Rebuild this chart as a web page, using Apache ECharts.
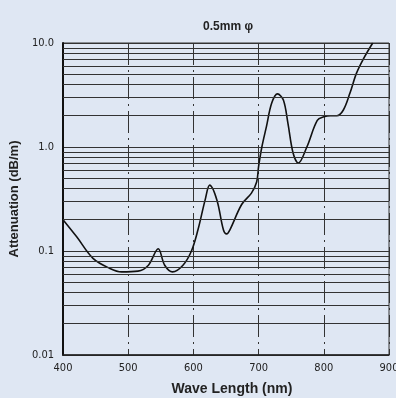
<!DOCTYPE html>
<html>
<head>
<meta charset="utf-8">
<script src="https://cdn.jsdelivr.net/npm/echarts@6/dist/echarts.min.js"></script>
<style>
  html, body { margin: 0; padding: 0; background: #dfe7f3; }
  #chart { width: 396px; height: 398px; }
</style>
</head>
<body>
<div id="chart"></div>
<script>
  // wavelength (nm)
  var waveLength = [400, 421, 446, 472, 490, 515, 531, 546, 556, 568, 584, 597, 607, 618, 625,
    636, 646, 651, 656, 674, 689, 697, 700, 705, 712, 720, 729, 738, 745, 753, 761, 774,
    790, 800, 810, 820, 830, 840, 850, 860, 875]
  // attenuation (dB/m)
  var attenuation = [0.2, 0.137, 0.085, 0.068, 0.063, 0.064, 0.073, 0.105, 0.073, 0.063, 0.073,
    0.1, 0.16, 0.31, 0.43, 0.31, 0.16, 0.146, 0.16, 0.28, 0.36, 0.46, 0.65, 1.0, 1.57, 2.63,
    3.24, 2.83, 1.69, 0.87, 0.7, 1.0, 1.8, 1.95, 2.0, 2.0, 2.27, 3.28, 5.1, 6.9, 10]
  // y tick labels per decade
  var yTickLabels = { '-2': '0.01', '-1': '0.1', '0': '1.0', '1': '10.0' }
  // minor grid lines (2..9 of each decade)
  var minorGrid = [0.02, 0.03, 0.04, 0.05, 0.06, 0.07, 0.08, 0.09,
    0.2, 0.3, 0.4, 0.5, 0.6, 0.7, 0.8, 0.9,
    2, 3, 4, 5, 6, 7, 8, 9]

  var narrow = '"Liberation Sans Narrow", "DejaVu Sans Condensed", sans-serif'
  var bold = '"Liberation Sans", Arial, sans-serif'

  var chart = echarts.init(document.getElementById('chart'))
  chart.setOption({
    backgroundColor: '#dfe7f3',
    animation: false,
    title: {
      text: '0.5mm φ',
      left: 223,
      top: 16,
      textAlign: 'center',
      textStyle: { fontFamily: bold, fontSize: 12, fontWeight: 'bold', color: '#222' }
    },
    grid: {
      left: 63, right: 7, top: 43, bottom: 43,
      outerBoundsMode: 'none',
      show: true, borderColor: '#333', borderWidth: 1
    },
    xAxis: {
      type: 'value',
      min: 400, max: 900, interval: 100,
      name: 'Wave Length (nm)',
      nameLocation: 'middle',
      nameGap: 27,
      nameTextStyle: { fontFamily: bold, fontSize: 14, fontWeight: 'bold', color: '#222', padding: [0, 0, 0, 12] },
      axisLine: { lineStyle: { color: '#222', width: 1.5 } },
      axisTick: { show: false },
      axisLabel: { fontFamily: narrow, fontSize: 11, color: '#222', margin: 8 },
      splitLine: { lineStyle: { color: '#333', width: 1, type: [22, 5, 2, 5] } }
    },
    yAxis: {
      type: 'log',
      logBase: 10,
      min: 0.01, max: 10,
      name: 'Attenuation (dB/m)',
      nameLocation: 'middle',
      nameGap: 30,
      nameTextStyle: { fontFamily: bold, fontSize: 13, fontWeight: 'bold', color: '#222' },
      axisLine: { lineStyle: { color: '#111', width: 2 } },
      axisTick: { show: false },
      axisLabel: {
        fontFamily: narrow, fontSize: 11, color: '#222', margin: 9,
        formatter: function (v) {
          return yTickLabels[String(Math.round(Math.log10(v)))] || ''
        }
      },
      splitLine: { lineStyle: { color: '#333', width: 1 } }
    },
    series: [{
      type: 'line',
      data: waveLength.map(function (w, i) { return [w, attenuation[i]] }),
      smooth: 0.35,
      symbol: 'none',
      lineStyle: { color: '#111', width: 1.6 },
      markLine: {
        silent: true,
        symbol: 'none',
        label: { show: false },
        lineStyle: { color: '#333', width: 1, type: 'solid' },
        data: minorGrid.map(function (v) { return { yAxis: v } })
      }
    }]
  })
</script>
</body>
</html>
